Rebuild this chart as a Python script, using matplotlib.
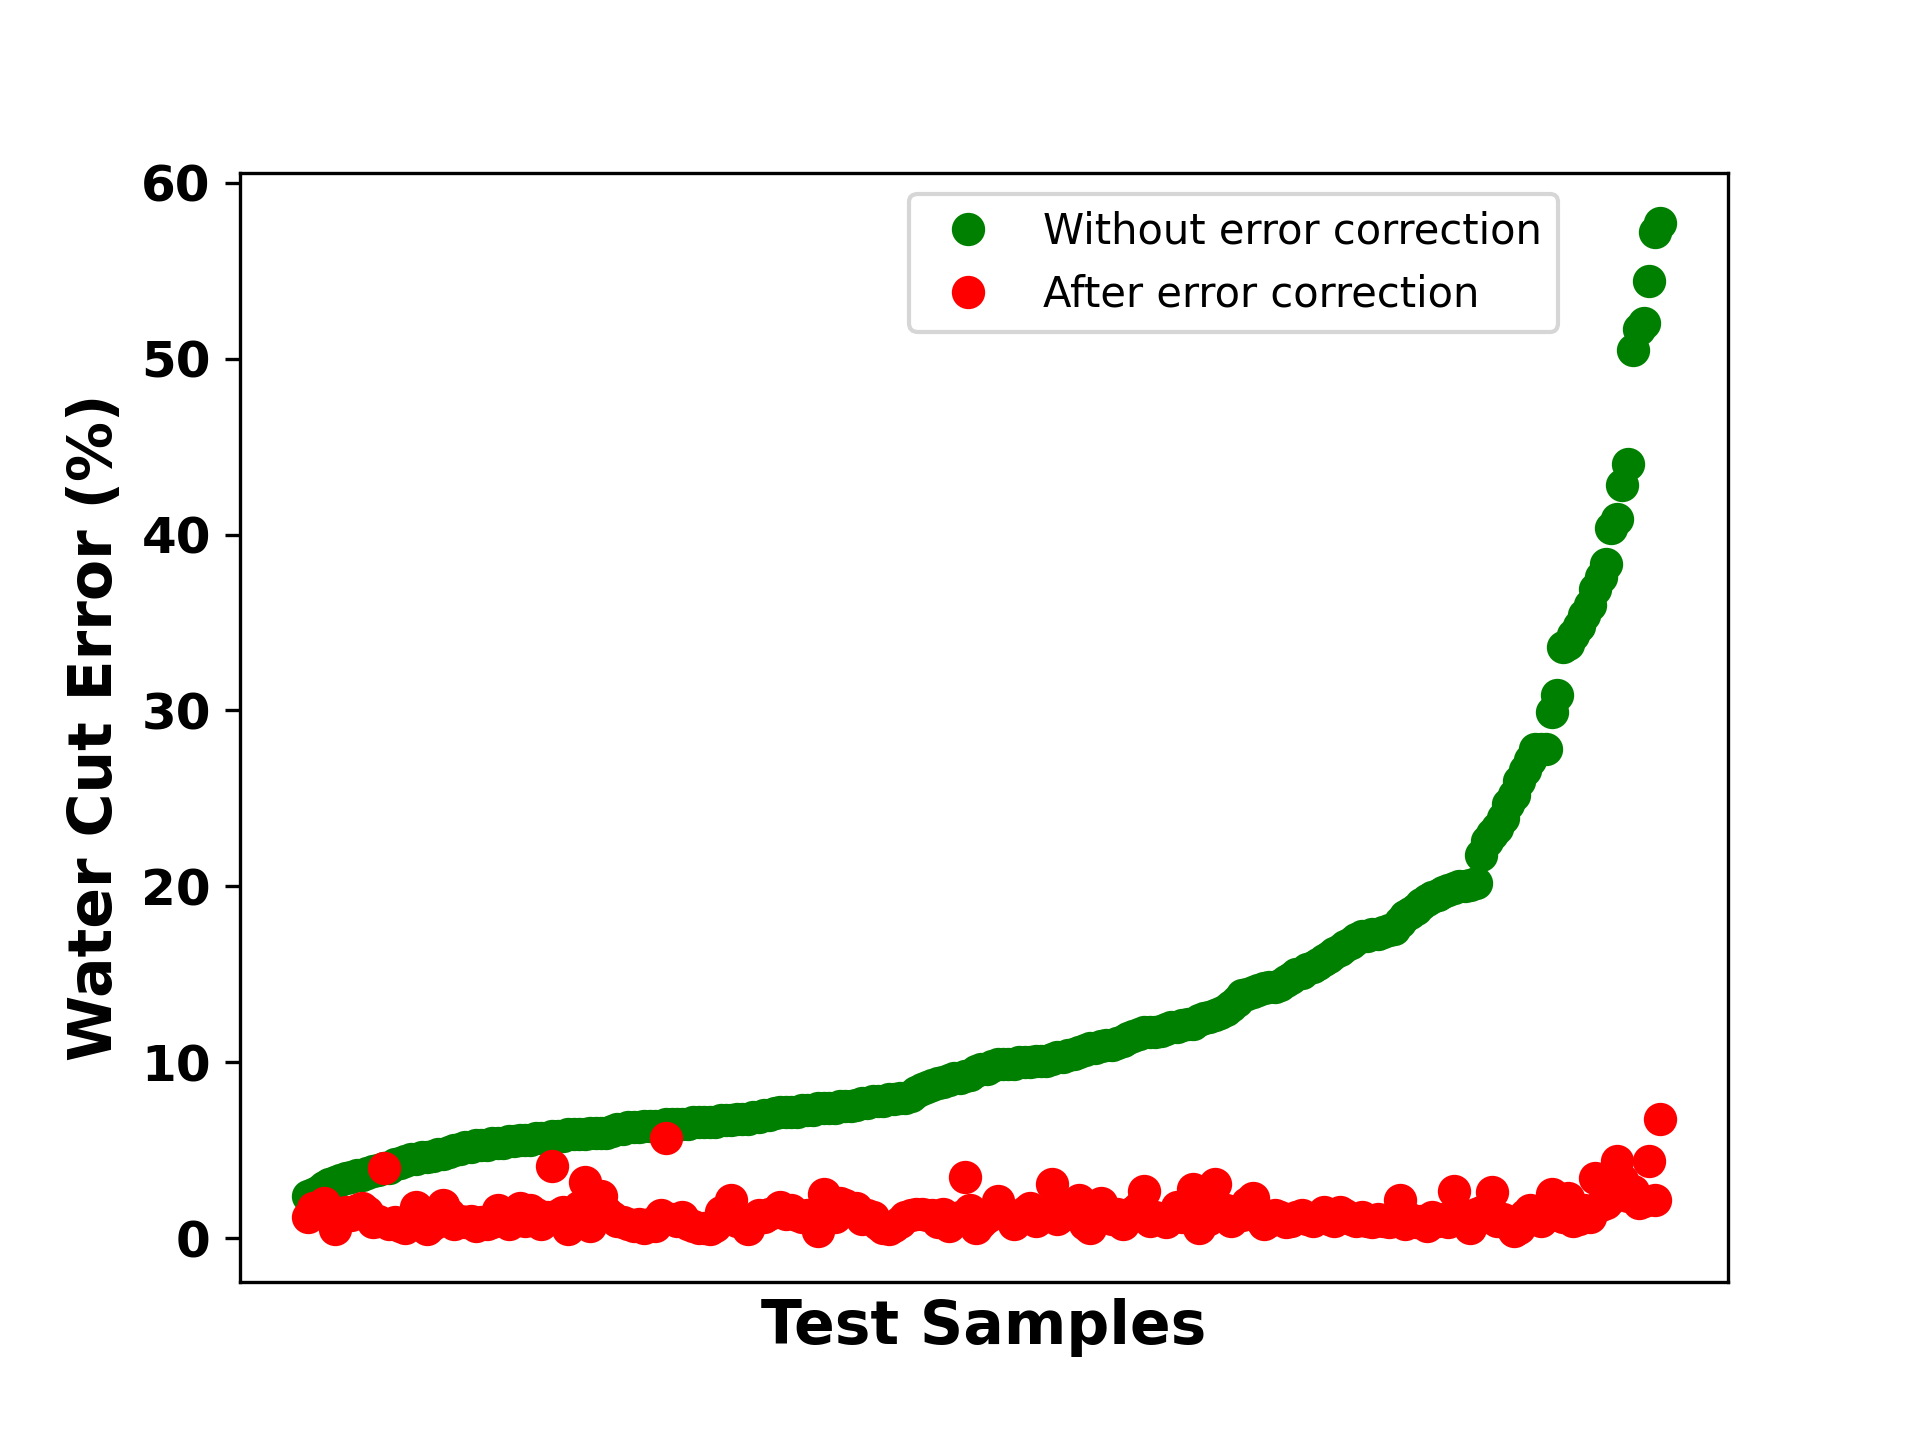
import numpy as np
import matplotlib
matplotlib.use("Agg")
import matplotlib.pyplot as plt

# water cut error per test sample, sorted by the uncorrected error
err_without = [
    2.4, 2.5, 2.7, 2.9, 3.1, 3.2, 3.3, 3.4, 3.5, 3.6,
    3.6, 3.7, 3.8, 3.9, 4.0, 4.0, 4.2, 4.3, 4.4, 4.5,
    4.5, 4.6, 4.6, 4.7, 4.8, 4.8, 4.9, 5.0, 5.1, 5.2,
    5.2, 5.3, 5.3, 5.3, 5.4, 5.4, 5.4, 5.5, 5.5, 5.6,
    5.6, 5.6, 5.7, 5.7, 5.7, 5.8, 5.8, 5.8, 5.9, 5.9,
    5.9, 5.9, 6.0, 6.0, 6.0, 6.0, 6.1, 6.2, 6.2, 6.3,
    6.3, 6.3, 6.4, 6.4, 6.4, 6.4, 6.5, 6.5, 6.5, 6.5,
    6.5, 6.6, 6.6, 6.6, 6.6, 6.6, 6.7, 6.7, 6.7, 6.8,
    6.8, 6.8, 6.9, 6.9, 7.0, 7.0, 7.1, 7.2, 7.2, 7.2,
    7.2, 7.3, 7.3, 7.3, 7.4, 7.4, 7.4, 7.4, 7.5, 7.5,
    7.5, 7.6, 7.7, 7.7, 7.8, 7.8, 7.8, 7.9, 7.9, 8.0,
    8.0, 8.1, 8.3, 8.5, 8.6, 8.7, 8.8, 8.9, 9.0, 9.1,
    9.1, 9.2, 9.3, 9.5, 9.6, 9.6, 9.8, 9.9, 9.9, 9.9,
    9.9, 10.0, 10.0, 10.0, 10.1, 10.1, 10.1, 10.2, 10.3, 10.3,
    10.4, 10.5, 10.6, 10.7, 10.8, 10.8, 10.9, 11.0, 11.0, 11.1,
    11.2, 11.4, 11.5, 11.6, 11.7, 11.7, 11.7, 11.8, 11.9, 12.0,
    12.0, 12.1, 12.2, 12.2, 12.4, 12.5, 12.6, 12.7, 12.8, 13.0,
    13.2, 13.5, 13.8, 13.9, 14.0, 14.1, 14.2, 14.3, 14.3, 14.4,
    14.6, 14.8, 15.0, 15.1, 15.3, 15.4, 15.6, 15.8, 16.0, 16.2,
    16.4, 16.6, 16.8, 17.0, 17.2, 17.2, 17.3, 17.3, 17.4, 17.5,
    17.6, 18.0, 18.3, 18.5, 18.7, 19.0, 19.2, 19.4, 19.5, 19.7,
    19.8, 19.9, 20.0, 20.0, 20.1, 20.2, 21.8, 22.6, 23.0, 23.3,
    23.9, 24.7, 25.2, 26.0, 26.6, 27.2, 27.8, 27.8, 27.8, 29.9,
    30.9, 33.6, 33.8, 34.3, 34.8, 35.4, 36.0, 36.9, 37.6, 38.3,
    40.4, 40.9, 42.8, 44.0, 50.5, 51.7, 52.0, 54.4, 57.2, 57.7,
]

err_after = [
    1.2, 1.7, 1.8, 2.0, 1.6, 0.5, 1.4, 1.5, 1.3, 1.6,
    1.7, 1.5, 0.9, 1.0, 4.0, 0.8, 0.9, 0.7, 0.6, 0.8,
    1.8, 1.2, 0.5, 0.8, 1.2, 1.9, 1.4, 0.8, 1.0, 0.9,
    1.0, 0.7, 0.9, 0.8, 0.9, 1.6, 1.2, 0.8, 1.5, 1.7,
    1.0, 1.6, 1.4, 0.8, 1.2, 4.1, 1.3, 1.5, 0.5, 1.4,
    1.8, 3.2, 0.7, 1.2, 2.4, 1.5, 1.2, 1.0, 0.9, 0.8,
    0.7, 0.8, 0.6, 0.8, 0.7, 1.3, 5.7, 1.1, 1.0, 1.2,
    0.8, 0.7, 0.6, 0.6, 0.5, 0.7, 1.5, 1.6, 2.2, 1.0,
    0.9, 0.5, 1.1, 1.3, 1.2, 1.4, 1.5, 1.8, 1.4, 1.6,
    1.3, 1.2, 1.3, 1.0, 0.4, 2.5, 1.3, 1.2, 2.0, 1.9,
    1.6, 1.7, 1.1, 1.3, 1.2, 0.8, 0.6, 0.5, 0.7, 0.9,
    1.2, 1.3, 1.4, 1.4, 1.3, 1.3, 0.9, 1.4, 0.7, 1.0,
    1.2, 3.5, 1.6, 0.6, 0.9, 1.2, 1.4, 2.1, 1.5, 1.3,
    0.8, 1.2, 1.5, 1.7, 1.0, 1.2, 1.4, 3.1, 1.1, 1.3,
    1.8, 1.4, 2.2, 0.8, 0.6, 1.2, 2.0, 1.5, 1.1, 1.4,
    0.8, 1.2, 1.5, 1.8, 2.7, 1.0, 1.2, 1.1, 0.9, 1.2,
    1.8, 1.2, 2.0, 2.8, 0.6, 1.4, 1.1, 3.1, 1.7, 1.6,
    1.0, 1.4, 1.3, 2.0, 2.3, 1.2, 0.8, 1.0, 1.3, 1.2,
    0.9, 1.0, 1.2, 1.3, 1.1, 1.0, 1.2, 1.5, 1.1, 1.0,
    1.5, 1.3, 1.1, 1.0, 1.2, 1.0, 0.9, 1.1, 1.0, 0.9,
    1.0, 2.2, 0.8, 1.1, 0.9, 1.0, 0.7, 1.2, 1.0, 1.1,
    0.9, 2.7, 1.4, 0.9, 0.6, 1.4, 1.5, 1.2, 2.6, 1.0,
    1.1, 0.8, 0.4, 0.6, 1.3, 1.6, 1.2, 1.0, 1.4, 2.5,
    1.3, 1.2, 2.3, 1.0, 1.1, 1.6, 1.2, 3.4, 1.9, 2.0,
    2.3, 4.4, 3.3, 2.4, 2.7, 2.0, 2.1, 4.4, 2.2, 6.8,
]

labels = ["Without error correction", "After error correction"]

samples = np.arange(len(err_without))

fig = plt.figure(figsize=(6.4, 4.8))
ax = fig.add_subplot(111)

ax.plot(samples, err_without, "o", color="green", markersize=7, label=labels[0])
ax.plot(samples, err_after, "o", color="red", markersize=7, label=labels[1])

ax.set_xticks([])
ax.set_yticks([0, 10, 20, 30, 40, 50, 60])
for t in ax.get_yticklabels():
    t.set_fontsize("large")
    t.set_fontweight("bold")

ax.set_xlabel("Test Samples", fontsize="x-large", fontweight="bold")
ax.set_ylabel("Water Cut Error (%)", fontsize="x-large", fontweight="bold")

ax.legend(loc="upper right", bbox_to_anchor=(0.9, 1.0), numpoints=1)

fig.savefig("out.png", dpi=300)
